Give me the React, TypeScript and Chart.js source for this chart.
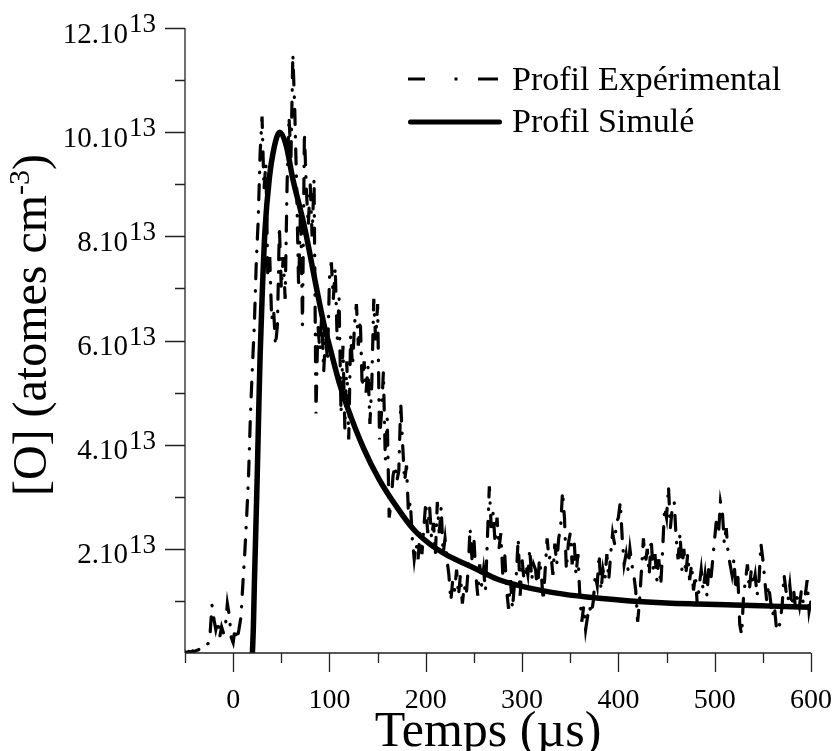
import React, { useEffect, useRef } from 'react';
import { Chart, registerables } from 'chart.js';

Chart.register(...registerables);

// ---- Data (values in units of 10^13 atomes cm^-3) ----
const X_MIN = -50;
const X_MAX = 600;
const Y_MIN = 0;
const Y_MAX = 12;

const EXP_START = -50; // µs
const EXP_STEP = 2; // µs
const EXP_VALUES = [
  0.02, 0.01, 0.03, 0.02, 0.04, 0.03, 0.05, 0.06, 0.10, 0.08,
  0.12, 0.15, 0.18, 0.35, 0.92, 0.65, 0.45, 0.62, 0.30, 0.50,
  0.38, 0.52, 0.95, 0.72, 0.30, 0.20, 0.48, 0.25, 0.45, 0.68,
  1.30, 1.90, 2.60, 3.40, 4.60, 5.50, 6.30, 7.50, 8.30, 9.60,
  10.30, 8.90, 9.40, 7.20, 7.60, 6.40, 6.60, 5.90, 6.30, 8.20,
  7.00, 7.60, 6.80, 9.00, 10.30, 9.50, 11.50, 10.40, 8.90, 7.00,
  8.60, 6.30, 10.00, 8.90, 8.20, 9.00, 8.00, 9.10, 4.60, 6.30,
  5.80, 6.50, 5.40, 6.10, 5.60, 7.20, 7.50, 6.80, 7.40, 6.00,
  6.80, 4.60, 5.90, 4.30, 5.60, 4.10, 6.10, 5.50, 6.30, 6.70,
  5.90, 6.40, 5.10, 5.60, 5.00, 5.50, 4.40, 5.20, 6.80, 6.00,
  6.70, 4.10, 4.60, 5.40, 3.70, 4.50, 2.60, 2.90, 3.40, 3.60,
  3.30, 3.50, 4.80, 4.00, 3.30, 3.60, 2.70, 2.90, 2.20, 1.80,
  2.10, 1.80, 2.30, 1.90, 2.40, 2.90, 2.30, 2.80, 2.20, 2.50,
  1.90, 2.90, 2.30, 2.80, 1.90, 2.20, 1.80, 1.50, 1.00, 1.40,
  1.20, 1.60, 1.10, 1.50, 0.95, 1.30, 1.10, 1.60, 2.40, 1.80,
  2.20, 1.50, 1.10, 1.70, 1.30, 1.60, 1.20, 2.20, 3.20, 2.40,
  2.70, 2.10, 2.60, 2.00, 2.30, 1.50, 1.90, 1.20, 0.85, 1.40,
  0.85, 1.30, 1.50, 2.20, 1.10, 1.80, 1.40, 1.70, 1.50, 2.00,
  1.40, 1.70, 1.60, 1.20, 1.80, 1.50, 1.00, 1.60, 2.20, 1.80,
  1.90, 1.50, 2.10, 1.70, 2.20, 2.40, 3.10, 2.60, 1.60, 2.10,
  2.30, 1.70, 2.20, 1.50, 1.90, 1.10, 0.60, 0.90, 0.45, 0.70,
  0.90, 0.75, 1.00, 1.50, 1.30, 1.90, 1.20, 1.60, 1.40, 1.90,
  1.40, 1.90, 2.30, 2.10, 2.50, 2.60, 2.90, 2.20, 1.70, 1.90,
  1.60, 2.00, 1.70, 1.50, 1.20, 0.60, 1.00, 1.60, 2.20, 1.70,
  2.00, 1.50, 2.20, 1.60, 1.90, 1.40, 1.80, 1.30, 2.00, 2.80,
  2.60, 3.20, 2.40, 2.80, 2.90, 2.20, 1.80, 2.30, 1.60, 2.00,
  1.50, 1.90, 1.40, 1.70, 1.20, 1.50, 0.90, 1.30, 1.60, 1.20,
  1.50, 1.10, 1.70, 1.40, 1.80, 2.20, 2.60, 2.30, 2.90, 2.70,
  2.10, 2.40, 1.90, 1.70, 1.50, 1.80, 1.20, 1.50, 0.55, 0.35,
  1.10, 1.40, 1.70, 1.20, 1.60, 1.30, 1.50, 1.10, 1.40, 2.10,
  1.80, 1.40, 1.00, 1.30, 1.00, 0.70, 0.90, 0.50, 0.42, 0.60,
  0.90, 1.50, 1.20, 1.00, 1.30, 0.90, 1.20, 0.85, 1.10, 0.90,
  1.20, 0.95, 1.10, 1.40, 0.80, 1.00,
];

const SIM_TIMES = [
  20, 21, 22, 23, 24, 25, 26, 27, 28, 30, 33, 37.5, 42.5, 48.5, 55, 62, 70, 75, 85, 95,
  100, 110, 118, 135, 152, 170, 187, 205, 222, 240, 256, 274, 300, 343, 380, 412, 450,
  482, 520, 560, 600,
];
const SIM_VALUES = [
  0, 0.5, 1.3, 2.0, 2.7, 3.4, 4.2, 5.0, 5.7, 6.8, 8.1, 9.1, 9.7, 10.0, 9.75, 9.1, 8.5,
  8.1, 7.15, 6.25, 5.9, 5.2, 4.75, 3.95, 3.32, 2.8, 2.38, 2.08, 1.88, 1.72, 1.58, 1.42,
  1.28, 1.13, 1.05, 1.0, 0.96, 0.94, 0.92, 0.9, 0.88,
];

const X_TICK_VALUES = [0, 100, 200, 300, 400, 500, 600];
const X_TICK_LABELS = ['0', '100', '200', '300', '400', '500', '600'];
const X_MINOR_TICKS = [-50, 50, 150, 250, 350, 450, 550];

const Y_TICK_VALUES = [2, 4, 6, 8, 10, 12];
const Y_TICK_LABELS = ['2.10', '4.10', '6.10', '8.10', '10.10', '12.10'];
const Y_TICK_EXPONENT = '13';
const Y_MINOR_TICKS = [1, 3, 5, 7, 9, 11];

const X_TITLE = 'Temps (µs)';
const Y_TITLE_MAIN = '[O] (atomes cm';
const Y_TITLE_SUP = '-3';
const Y_TITLE_END = ')';
const LEGEND_LABELS = ['Profil Expérimental', 'Profil Simulé'];

const SERIF = '"Liberation Serif", "Times New Roman", serif';

const customAxes = {
  id: 'customAxes',
  afterDraw(chart: any) {
    const { ctx } = chart;
    const xs = chart.scales.x;
    const ys = chart.scales.y;
    const left = xs.getPixelForValue(X_MIN);
    const right = xs.getPixelForValue(X_MAX);
    const bottom = ys.getPixelForValue(Y_MIN);
    const top = ys.getPixelForValue(Y_MAX);

    ctx.save();
    ctx.strokeStyle = '#222';
    ctx.lineWidth = 1.3;
    ctx.lineCap = 'butt';
    ctx.beginPath();
    ctx.moveTo(left, top);
    ctx.lineTo(left, bottom);
    ctx.moveTo(left, bottom);
    ctx.lineTo(right, bottom);
    Y_TICK_VALUES.forEach((v) => {
      const py = Math.round(ys.getPixelForValue(v)) + 0.5;
      ctx.moveTo(left - 20, py);
      ctx.lineTo(left, py);
    });
    Y_MINOR_TICKS.forEach((v) => {
      const py = Math.round(ys.getPixelForValue(v)) + 0.5;
      ctx.moveTo(left - 10, py);
      ctx.lineTo(left, py);
    });
    X_TICK_VALUES.forEach((v) => {
      const px = Math.round(xs.getPixelForValue(v)) + 0.5;
      ctx.moveTo(px, bottom);
      ctx.lineTo(px, bottom + 19);
    });
    X_MINOR_TICKS.forEach((v) => {
      const px = Math.round(xs.getPixelForValue(v)) + 0.5;
      ctx.moveTo(px, bottom);
      ctx.lineTo(px, bottom + 10);
    });
    ctx.stroke();

    // tick labels
    ctx.fillStyle = '#000';
    ctx.textBaseline = 'alphabetic';
    ctx.textAlign = 'center';
    ctx.font = `28px ${SERIF}`;
    X_TICK_VALUES.forEach((v, i) => {
      ctx.fillText(X_TICK_LABELS[i], xs.getPixelForValue(v), bottom + 55);
    });

    Y_TICK_VALUES.forEach((v, i) => {
      const py = ys.getPixelForValue(v);
      ctx.textAlign = 'right';
      ctx.font = `27px ${SERIF}`;
      const supW = ctx.measureText(Y_TICK_EXPONENT).width;
      ctx.fillText(Y_TICK_EXPONENT, left - 29, py + 4);
      ctx.font = `29px ${SERIF}`;
      ctx.fillText(Y_TICK_LABELS[i], left - 30 - supW, py + 14.5);
    });

    // x title
    ctx.textAlign = 'center';
    ctx.font = `50px ${SERIF}`;
    ctx.fillText(X_TITLE, 488, 746);

    // y title (rotated)
    ctx.save();
    ctx.translate(46, 325);
    ctx.rotate(-Math.PI / 2);
    ctx.textAlign = 'left';
    ctx.font = `48px ${SERIF}`;
    const w1 = ctx.measureText(Y_TITLE_MAIN).width;
    const w3 = ctx.measureText(Y_TITLE_END).width;
    ctx.font = `30px ${SERIF}`;
    const w2 = ctx.measureText(Y_TITLE_SUP).width;
    const total = w1 + w2 + w3;
    let cx = -total / 2;
    ctx.font = `48px ${SERIF}`;
    ctx.fillText(Y_TITLE_MAIN, cx, 0);
    cx += w1;
    ctx.font = `30px ${SERIF}`;
    ctx.fillText(Y_TITLE_SUP, cx, -17);
    cx += w2;
    ctx.font = `48px ${SERIF}`;
    ctx.fillText(Y_TITLE_END, cx, 0);
    ctx.restore();

    // legend
    ctx.strokeStyle = '#000';
    ctx.lineWidth = 3;
    ctx.lineCap = 'butt';
    ctx.beginPath();
    ctx.moveTo(408, 79);
    ctx.lineTo(425, 79);
    ctx.moveTo(454.5, 79);
    ctx.lineTo(457.5, 79);
    ctx.moveTo(478, 79);
    ctx.lineTo(498, 79);
    ctx.stroke();
    ctx.lineWidth = 5;
    ctx.lineCap = 'round';
    ctx.beginPath();
    ctx.moveTo(410.5, 122);
    ctx.lineTo(499.5, 122);
    ctx.stroke();
    ctx.textAlign = 'left';
    ctx.font = `34px ${SERIF}`;
    ctx.fillText(LEGEND_LABELS[0], 512, 90);
    ctx.fillText(LEGEND_LABELS[1], 512, 132);
    ctx.restore();
  },
};

export default function App() {
  const canvasRef = useRef<HTMLCanvasElement | null>(null);

  useEffect(() => {
    const canvas = canvasRef.current;
    if (!canvas) return;
    const expData = EXP_VALUES.map((v, i) => ({ x: EXP_START + i * EXP_STEP, y: v }));
    const simData = SIM_TIMES.map((t, i) => ({ x: t, y: SIM_VALUES[i] }));
    const chart = new Chart(canvas, {
      type: 'line',
      data: {
        datasets: [
          {
            label: LEGEND_LABELS[0],
            data: expData,
            borderColor: '#000',
            borderWidth: 3.2,
            borderDash: [15, 12, 0.5, 12],
            borderCapStyle: 'round',
            pointRadius: 0,
            tension: 0,
            fill: false,
          },
          {
            label: LEGEND_LABELS[1],
            data: simData,
            borderColor: '#000',
            borderWidth: 5.5,
            borderCapStyle: 'round',
            borderJoinStyle: 'round',
            cubicInterpolationMode: 'monotone',
            pointRadius: 0,
            fill: false,
          },
        ],
      },
      options: {
        animation: false,
        responsive: false,
        devicePixelRatio: 1,
        layout: { padding: { left: 185, right: 23, top: 28, bottom: 98 } },
        plugins: { legend: { display: false }, tooltip: { enabled: false } },
        scales: {
          x: { type: 'linear', min: X_MIN, max: X_MAX, display: false },
          y: { type: 'linear', min: Y_MIN, max: Y_MAX, display: false },
        },
      },
      plugins: [customAxes],
    } as any);
    return () => chart.destroy();
  }, []);

  return (
    <div style={{ position: 'absolute', left: 0, top: 0, width: 834, height: 751, background: '#fff' }}>
      <canvas ref={canvasRef} width={834} height={751} style={{ display: 'block' }} />
    </div>
  );
}
